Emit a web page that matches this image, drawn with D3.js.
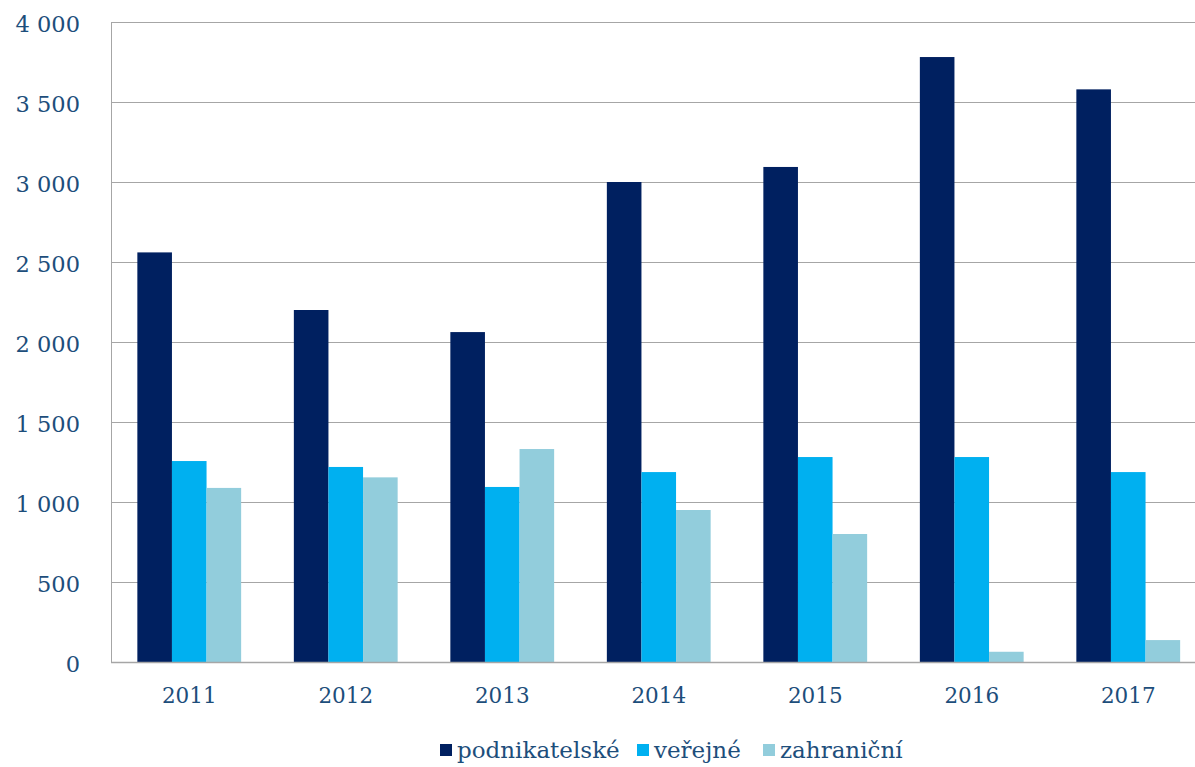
<!DOCTYPE html>
<html><head><meta charset="utf-8">
<script src="https://cdn.jsdelivr.net/npm/d3@7"></script>
<style>body{margin:0;background:#fff}svg{display:block}text{font-family:"DejaVu Serif","Liberation Serif",serif;fill:#1d4e7b}</style>
</head><body>
<svg id="c" width="1195" height="767"></svg>
<script>
const years = ["2011","2012","2013","2014","2015","2016","2017"];
const seriesNames = ["podnikatelské","veřejné","zahraniční"];
const podnikatelske = [2560, 2200, 2062, 3000, 3094, 3781, 3579];
const verejne = [1256, 1219, 1094, 1187, 1281, 1281, 1187];
const zahranicni = [1088, 1154, 1331, 950, 800, 64, 137];
const yTicks = [0, 500, 1000, 1500, 2000, 2500, 3000, 3500, 4000];
const colors = ["#002060", "#00b0f0", "#92cddc"];

const values = [podnikatelske, verejne, zahranicni];
const svg = d3.select("#c");
const pL = 111, pT = 22, pB = 662, pR = 1206.5;
const x = d3.scaleBand().domain(years).range([pL, pR]);
const y = d3.scaleLinear().domain([0, 4000]).range([pB, pT]);
const bw = 34.6;
const xs = d3.scaleBand().domain(seriesNames).range([0, bw*3]);

// gridlines
svg.append("g").selectAll("line").data(yTicks).join("line")
  .attr("x1", pL).attr("x2", 1195)
  .attr("y1", d => y(d)+0.5).attr("y2", d => y(d)+0.5)
  .attr("stroke", "#a6a6a6").attr("stroke-width", 1);
svg.append("line").attr("x1", pL+0.5).attr("x2", pL+0.5).attr("y1", pT).attr("y2", pB)
  .attr("stroke", "#a6a6a6");

// y labels
svg.append("g").selectAll("text").data(yTicks).join("text")
  .attr("x", 80).attr("y", d => y(d)+10)
  .attr("text-anchor", "end").attr("font-size", 22.5)
  .text(d => d3.format(",")(d).replace(/,/g, " "));

// bars
const g = svg.append("g");
seriesNames.forEach((s, i) => {
  g.append("g").selectAll("rect").data(years).join("rect")
    .attr("x", d => x(d) + x.bandwidth()/2 - bw*1.5 + xs(s))
    .attr("width", xs.bandwidth())
    .attr("y", (d, j) => y(values[i][j]))
    .attr("height", (d, j) => pB - y(values[i][j]))
    .attr("fill", colors[i]);
});
svg.append("line").attr("x1", pL).attr("x2", 1195).attr("y1", pB+0.5).attr("y2", pB+0.5)
  .attr("stroke", "#a6a6a6").attr("stroke-width", 1.5);

// x labels
svg.append("g").selectAll("text").data(years).join("text")
  .attr("x", d => x(d) + x.bandwidth()/2).attr("y", 703)
  .attr("text-anchor", "middle").attr("font-size", 21.5)
  .text(d => d);

// legend
const legX = [440, 637, 763];
const lg = svg.append("g");
seriesNames.forEach((s, i) => {
  lg.append("rect").attr("x", legX[i]).attr("y", 744).attr("width", 12).attr("height", 12).attr("fill", colors[i]);
  lg.append("text").attr("x", legX[i] + 17).attr("y", 758).attr("font-size", 23).text(s);
});
</script>
</body></html>
